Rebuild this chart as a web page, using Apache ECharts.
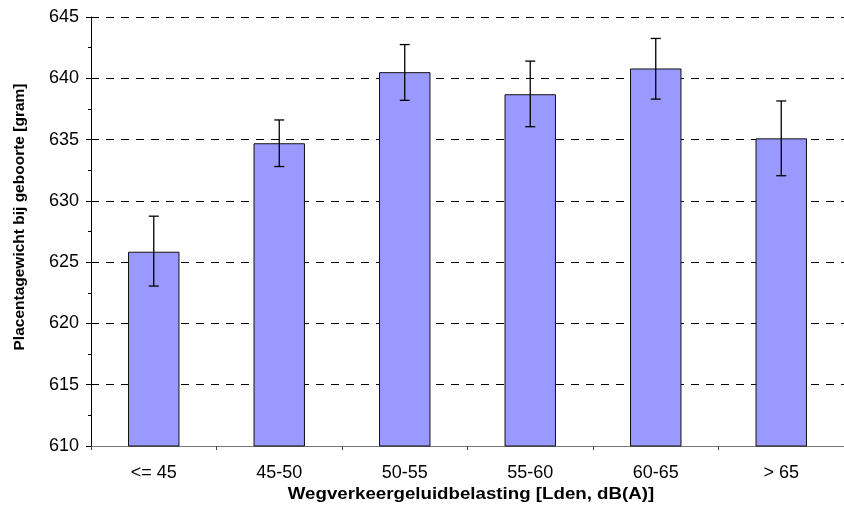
<!DOCTYPE html>
<html>
<head>
<meta charset="utf-8">
<script src="https://cdn.jsdelivr.net/npm/echarts@6/dist/echarts.min.js"></script>
<style>
  html, body { margin: 0; padding: 0; background: #fff; }
  #chart { width: 844px; height: 514px; }
</style>
</head>
<body>
<div id="chart"></div>
<script>
// Noise exposure classes (road traffic, Lden in dB(A))
const categories = ['<= 45', '45-50', '50-55', '55-60', '60-65', '> 65'];
// Mean placenta weight at birth (gram)
const meanWeight = [625.85, 634.7, 640.5, 638.7, 640.8, 635.1];
// Lower and upper ends of the error bars (gram)
const errLow  = [623.05, 632.8, 638.2, 636.05, 638.3, 632.05];
const errHigh = [628.75, 636.6, 642.75, 641.4, 643.25, 638.15];
// Value axis range and step
const yMin = 610, yMax = 645, yStep = 5;

const FONT = '"Liberation Sans", Arial, sans-serif';

const chart = echarts.init(document.getElementById('chart'), null, { renderer: 'canvas' });

const errorData = categories.map((c, i) => [i, errLow[i], errHigh[i]]);

function renderError(params, api) {
  const idx = api.value(0);
  const top = api.coord([idx, api.value(2)]);
  const bot = api.coord([idx, api.value(1)]);
  const half = 5;
  const style = { stroke: '#000', lineWidth: 1.3 };
  return {
    type: 'group',
    children: [
      { type: 'line', shape: { x1: top[0], y1: top[1], x2: bot[0], y2: bot[1] }, style },
      { type: 'line', shape: { x1: top[0] - half, y1: top[1], x2: top[0] + half, y2: top[1] }, style },
      { type: 'line', shape: { x1: bot[0] - half, y1: bot[1], x2: bot[0] + half, y2: bot[1] }, style }
    ]
  };
}

chart.setOption({
  animation: false,
  backgroundColor: '#fff',
  grid: { left: 91, right: -8, top: 17, bottom: 68, containLabel: false },
  xAxis: {
    type: 'category',
    data: categories,
    boundaryGap: true,
    axisLine: { show: true, lineStyle: { color: '#777', width: 1 } },
    axisTick: { show: true, length: 4, lineStyle: { color: '#444' } },
    axisLabel: { color: '#000', fontFamily: FONT, fontSize: 18, margin: 18 },
    splitLine: { show: false }
  },
  yAxis: {
    type: 'value',
    min: yMin,
    max: yMax,
    interval: yStep,
    axisLine: { show: true, lineStyle: { color: '#000', width: 1 } },
    axisTick: { show: true, length: 5, lineStyle: { color: '#000' } },
    minorTick: { show: true, splitNumber: 2, length: 3, lineStyle: { color: '#000' } },
    axisLabel: { color: '#000', fontFamily: FONT, fontSize: 18, margin: 12 },
    splitLine: { show: true, lineStyle: { color: '#000', width: 1, type: [8, 7] } }
  },
  graphic: [
    {
      type: 'text',
      x: 20, y: 217,
      rotation: Math.PI / 2,
      style: {
        text: 'Placentagewicht bij geboorte [gram]',
        font: 'bold 15.5px ' + FONT,
        fill: '#000',
        align: 'center',
        verticalAlign: 'middle'
      }
    },
    {
      type: 'text',
      x: 471, y: 494,
      scaleX: 1.1,
      style: {
        text: 'Wegverkeergeluidbelasting [Lden, dB(A)]',
        font: 'bold 17px ' + FONT,
        fill: '#000',
        align: 'center',
        verticalAlign: 'middle'
      }
    }
  ],
  series: [
    {
      type: 'bar',
      data: meanWeight,
      barWidth: '41%',
      itemStyle: { color: '#9999FF', borderColor: '#111', borderWidth: 1 },
      z: 2
    },
    {
      type: 'custom',
      data: errorData,
      renderItem: renderError,
      encode: { x: 0, y: [1, 2] },
      z: 5
    }
  ]
});
</script>
</body>
</html>
